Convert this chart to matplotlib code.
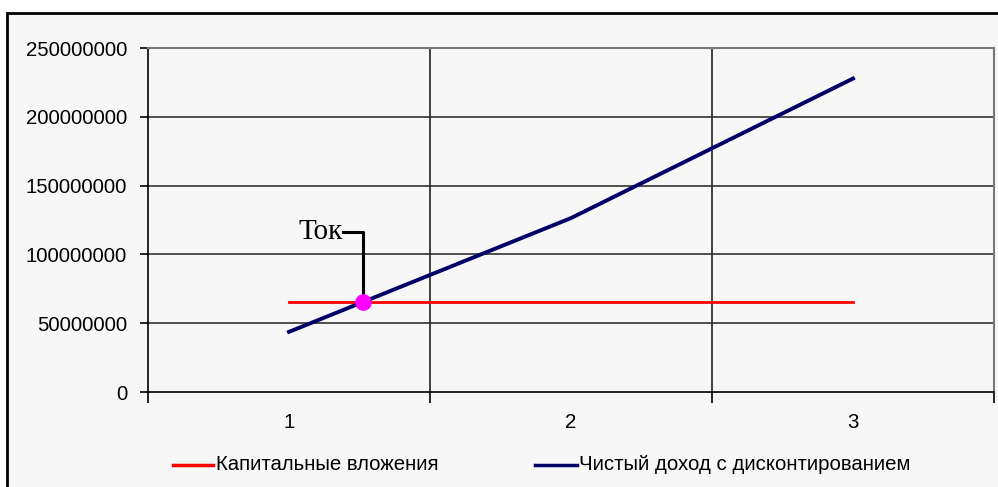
import numpy as np
import matplotlib.pyplot as plt
from matplotlib.patches import Rectangle

# данные
periodos = [1, 2, 3]
capital = [65300000, 65300000, 65300000]
renda_desc = [43700000, 126400000, 227800000]
legenda = ["Капитальные вложения", "Чистый доход с дисконтированием"]
y_ticks = [0, 50000000, 100000000, 150000000, 200000000, 250000000]

fundo = "#f7f7f7"
azul = "#000066"
fs = 14.7

fig = plt.figure(figsize=(9.98, 4.87), dpi=100)
fig.patch.set_facecolor("white")

# moldura do gráfico (sai da imagem a direita e embaixo)
fig.patches.append(Rectangle((7 / 998, -0.05), 1.2, 1 - 13 / 487 + 0.05,
                             transform=fig.transFigure, facecolor=fundo,
                             edgecolor="black", linewidth=2, zorder=0))

ax = fig.add_axes([148 / 998, 1 - 392 / 487, (994 - 148) / 998, (392 - 48) / 487])
ax.set_zorder(2)
ax.set_facecolor(fundo)
ax.set_xlim(0.5, 3.5)
ax.set_ylim(0, 250000000)

for y in y_ticks[1:]:
    ax.axhline(y, color="#333333", linewidth=1.2, zorder=1)
for x in [1.5, 2.5]:
    ax.axvline(x, color="#222222", linewidth=1.2, zorder=1)

ax.plot(periodos, capital, color="red", linewidth=2, zorder=3)
ax.plot(periodos, renda_desc, color=azul, linewidth=2.8, zorder=3)

# ponto de cruzamento (Ток)
t = (capital[0] - renda_desc[0]) / (renda_desc[1] - renda_desc[0])
xp = periodos[0] + t
yp = capital[0]
ax.plot([xp, xp, xp - 0.07], [yp, yp + 51000000, yp + 51000000], color="black",
        linewidth=2.2, zorder=4)
ax.plot(xp, yp, "o", color="#ff00ff", markersize=11, zorder=5)
ax.text(xp - 0.072, yp + 51000000, "Ток", family="Liberation Serif", fontsize=21,
        ha="right", va="center", zorder=5)

for lado in ["top", "right"]:
    ax.spines[lado].set_color("#777777")
    ax.spines[lado].set_linewidth(1.5)
ax.spines["left"].set_color("black")
ax.spines["bottom"].set_color("black")
ax.spines["left"].set_linewidth(1.2)
ax.spines["bottom"].set_linewidth(1.2)

ax.set_yticks(y_ticks)
ax.set_yticklabels([str(v) for v in y_ticks], family="Liberation Sans", fontsize=fs)
ax.tick_params(axis="y", length=6, width=1.2, pad=9)

ax.set_xticks([0.5, 1.5, 2.5, 3.5])
ax.set_xticklabels([])
ax.tick_params(axis="x", length=8, width=1.2)
for p in periodos:
    ax.text(p, -0.09, str(p), transform=ax.get_xaxis_transform(), ha="center",
            va="center", family="Liberation Sans", fontsize=fs)

# legenda manual
fig.add_artist(plt.Line2D([173 / 998, 213 / 998], [1 - 465 / 487] * 2, color="red", linewidth=2.5))
fig.text(216 / 998, 1 - 465 / 487, legenda[0], family="Liberation Sans", fontsize=fs, va="center")
fig.add_artist(plt.Line2D([535 / 998, 577 / 998], [1 - 465 / 487] * 2, color=azul, linewidth=2.5))
fig.text(579 / 998, 1 - 465 / 487, legenda[1], family="Liberation Sans", fontsize=fs, va="center")

fig.savefig("out.png", dpi=100, facecolor="white")
